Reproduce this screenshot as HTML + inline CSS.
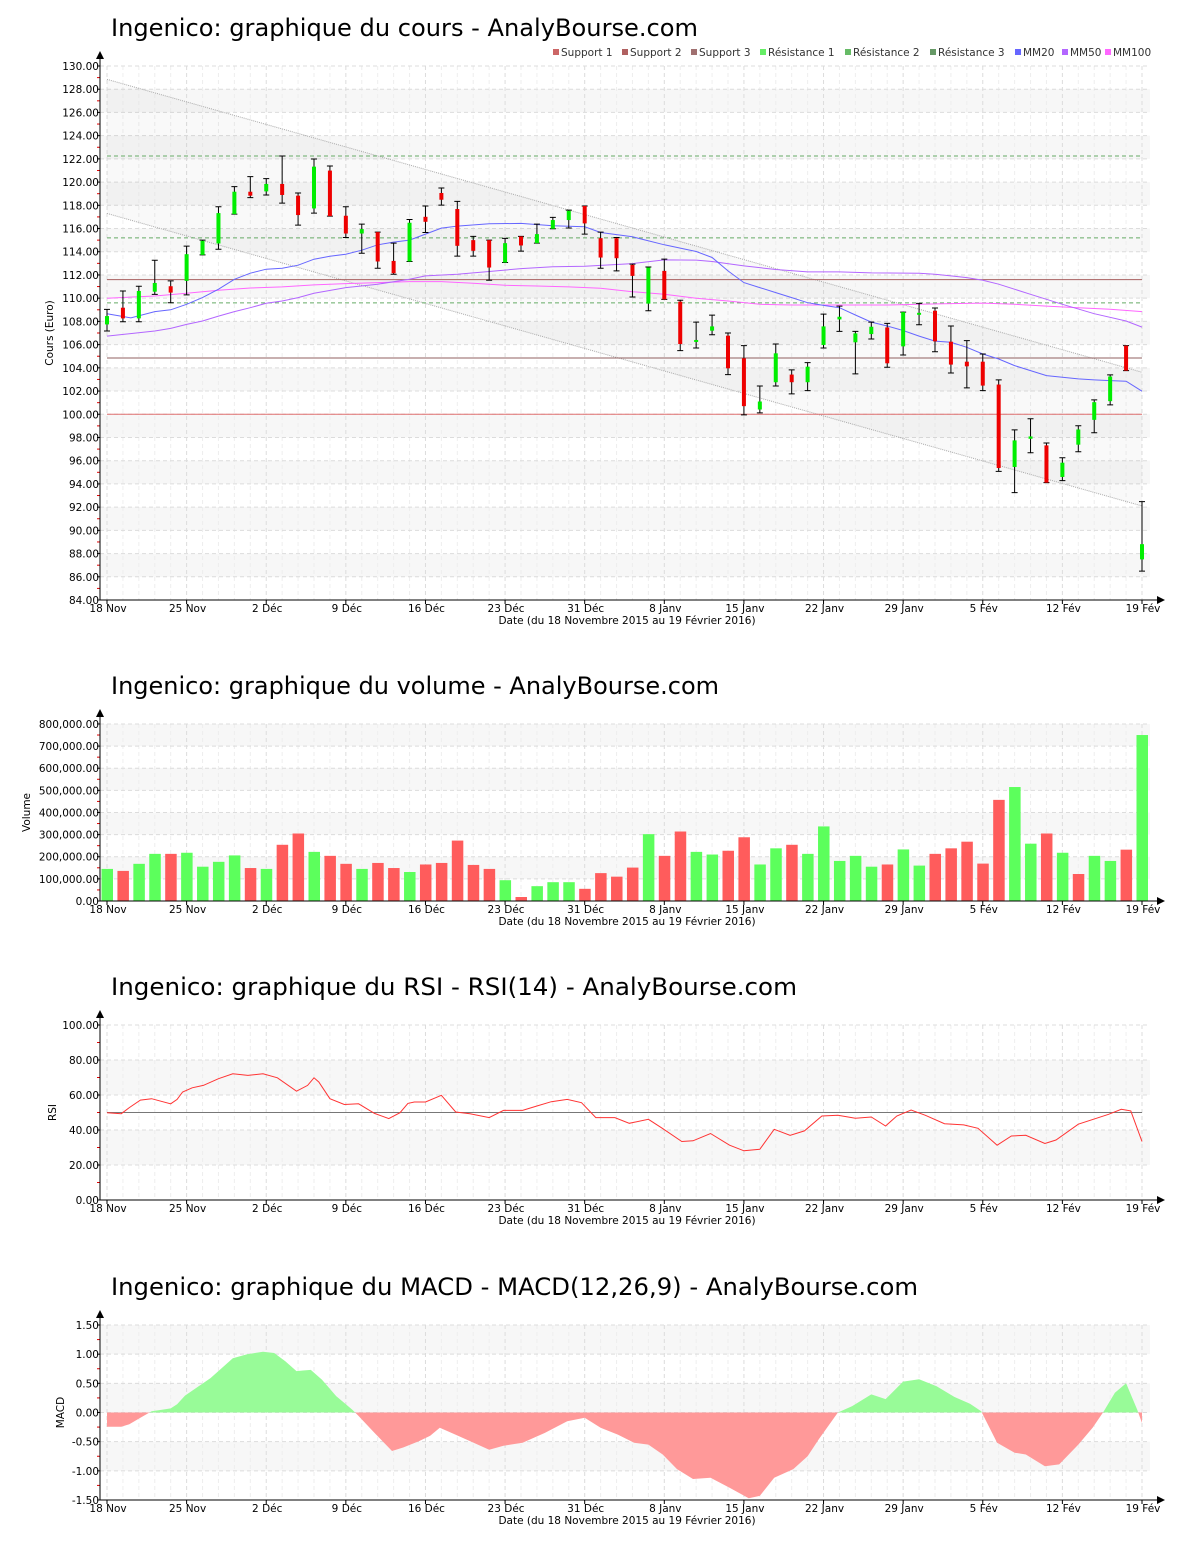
<!DOCTYPE html>
<html><head><meta charset="utf-8"><style>
html,body{margin:0;padding:0;background:#fff;}
svg{display:block;font-family:"DejaVu Sans","Liberation Sans",sans-serif;}
</style></head><body>
<svg id="root" width="1200" height="1550" viewBox="0 0 1200 1550" xmlns="http://www.w3.org/2000/svg"></svg>
<script>
// ---------- DATA ----------
const dateTicks = ["18 Nov","25 Nov","2 Déc","9 Déc","16 Déc","23 Déc","31 Déc","8 Janv","15 Janv","22 Janv","29 Janv","5 Fév","12 Fév","19 Fév"];
const openP  = [107.74,109.18,108.26,110.56,111.03,111.49,113.73,114.71,117.24,119.17,119.2,119.84,118.83,117.73,120.99,117.1,115.57,115.69,113.21,113.16,117.01,119.06,117.68,115.0,115.0,113.07,115.32,114.74,115.98,116.73,117.94,115.17,115.17,112.87,109.53,112.35,109.7,106.25,107.2,106.77,104.82,100.41,102.76,103.42,102.76,105.97,108.17,106.2,106.91,107.48,105.85,108.57,108.92,106.25,104.53,104.53,102.56,95.46,97.89,97.32,94.6,97.38,99.52,101.13,105.91,87.5];
const closeP = [108.46,108.26,110.62,111.31,110.48,113.79,114.94,117.33,119.17,118.83,119.84,118.89,117.16,121.33,117.07,115.57,115.95,113.16,112.15,116.5,116.58,118.48,114.51,114.08,112.64,114.74,114.54,115.52,116.73,117.53,116.44,113.5,113.44,111.92,112.64,109.9,106.05,106.4,107.57,103.96,100.7,101.1,105.25,102.76,104.1,107.57,108.4,106.97,107.54,104.39,108.8,108.74,106.28,104.28,104.13,102.47,95.37,97.75,98.09,94.11,95.83,98.69,101.04,103.25,103.76,88.81];
const highP  = [109.04,110.62,111.03,113.27,111.49,114.48,115.0,117.88,119.61,120.47,120.3,122.25,119.06,121.99,121.39,117.88,116.38,115.69,114.74,116.78,117.94,119.49,118.34,115.32,115.0,115.15,115.32,116.38,116.96,117.59,117.94,115.69,115.23,112.93,112.69,113.36,109.82,107.94,108.54,107.0,105.91,102.44,106.05,103.82,104.45,108.63,109.32,107.14,107.94,107.83,108.8,109.55,109.15,107.6,106.34,105.19,102.96,98.66,99.61,97.52,96.26,99.01,101.24,103.39,105.91,92.48];
const lowP   = [107.17,107.97,107.97,110.33,109.61,110.28,113.73,114.22,117.24,118.66,118.89,118.19,116.29,117.33,117.07,115.23,113.87,112.58,112.06,113.16,115.66,118.02,113.62,113.62,111.54,113.07,114.05,114.74,115.98,116.04,115.52,112.58,112.35,110.1,108.92,109.9,105.48,105.71,106.85,103.42,99.95,100.12,102.44,101.76,102.04,105.71,107.14,103.48,106.48,104.05,105.11,107.71,105.39,103.56,102.27,102.04,95.08,93.25,96.69,94.11,94.28,96.77,98.41,100.81,103.76,86.49];
const mm20Idx = [0,1.5,3,4,5,6,7,8,9,10,11,12,13,14,15,16,17,18,19,20,21,22,24,26,28,30,31,33,35,37,38,39,40,41,42,43,44,45,46,47,48,49,50,51,52,53,54,55,56,57,58,59,60,61,62,63,64,65];
const mm20Val = [108.66,108.3,108.84,109.0,109.47,110.05,110.77,111.63,112.15,112.5,112.58,112.84,113.36,113.62,113.79,114.13,114.6,114.83,115.0,115.52,116.04,116.21,116.41,116.44,116.24,116.15,115.66,115.29,114.6,114.02,113.5,112.35,111.34,110.91,110.48,110.05,109.61,109.38,109.18,108.55,107.94,107.6,107.22,106.73,106.3,106.2,105.77,105.19,104.76,104.19,103.76,103.33,103.19,103.05,102.96,102.9,102.85,101.99];
const mm50Idx = [0,3,4,5,6,7,8,9,10,11,12,13,15,17,19,20,22,24,26,28,30,33,35,37,38,40,42,44,46,48,51,52,53,54,55,56,58,60,62,64,65];
const mm50Val = [106.73,107.17,107.4,107.74,108.03,108.46,108.84,109.18,109.56,109.76,110.05,110.42,110.91,111.2,111.63,111.92,112.06,112.3,112.55,112.7,112.75,112.98,113.3,113.28,113.16,112.78,112.47,112.26,112.26,112.18,112.15,112.06,111.92,111.77,111.54,111.2,110.33,109.47,108.66,108.03,107.51];
const mm100Idx = [0,3,5,7,9,11,13,15,17,19,21,23,25,27,29,31,33,35,37,39,41,43,45,47,49,51,53,55,57,59,61,63,65];
const mm100Val = [110.0,110.19,110.42,110.68,110.88,110.97,111.14,111.26,111.34,111.43,111.43,111.28,111.11,111.05,110.97,110.85,110.56,110.33,110.0,109.76,109.47,109.41,109.41,109.41,109.41,109.47,109.53,109.58,109.47,109.32,109.18,109.04,108.84];
const supportLevels = [111.6,104.85,100.0];
const resistanceLevels = [122.25,115.2,109.6];
const channelUpper = [128.85,103.62];
const channelLower = [117.3,92.1];
const priceTicks = [84,86,88,90,92,94,96,98,100,102,104,106,108,110,112,114,116,118,120,122,124,126,128,130];
const volumes = [145,136,168,213,213,218,155,177,206,149,145,254,305,222,204,168,145,172,149,131,165,172,273,163,145,94,18,67,85,85,55,126,110,151,302,204,314,222,210,227,288,165,238,254,213,337,181,204,155,165,233,160,213,238,268,169,457,515,259,305,218,122,204,181,232,750];
const volUp = [1,0,1,1,0,1,1,1,1,0,1,0,0,1,0,0,1,0,0,1,0,0,0,0,0,1,0,1,1,1,0,0,0,0,1,0,0,1,1,0,0,1,1,0,1,1,1,1,1,0,1,1,0,0,0,0,0,1,1,0,1,0,1,1,0,1];
const volTicks = [0,100,200,300,400,500,600,700,800];
const rsiIdx = [0,0.9,1.4,2.1,2.8,4.0,4.4,4.75,5.35,6.05,7.0,7.9,8.85,9.8,10.7,11.9,12.6,13.0,13.3,14.0,14.9,15.8,16.8,17.7,18.4,18.9,19.3,20.0,21.0,21.9,22.8,24.0,24.9,26.1,27.0,27.9,28.9,29.8,30.7,31.9,32.8,34.0,34.9,36.1,36.8,37.9,39.1,40.0,41.0,41.9,42.9,43.8,44.9,45.9,47.0,48.0,48.9,49.6,50.5,51.4,52.6,53.8,54.7,55.9,56.8,57.7,58.9,59.6,61.0,62.9,63.7,64.3,65];
const rsiVal = [49.9,49.3,52.8,57.1,57.9,55,57.5,61.7,64.1,65.5,69.3,72.1,71.2,72.1,69.8,62.2,65.5,69.8,67.4,57.9,54.6,55,49.5,46.5,49.9,55.2,56,56,59.8,50.3,49.3,47.1,51.2,51.2,53.7,56.2,57.5,55.6,47.1,47.1,43.8,46.1,40.8,33.4,33.8,38,31.3,28.1,29,40.4,37,39.5,48,48.4,46.7,47.4,42.3,48,51.4,48.4,43.6,42.9,41,31.3,36.6,37,32.3,34.3,43.3,49,51.8,50.9,33.4];
const rsiTicks = [0,20,40,60,80,100];
const macdIdx = [0,0.9,1.4,2.1,2.8,3.5,4.0,4.4,4.9,5.8,6.5,7.2,7.9,8.8,9.8,10.5,11.2,11.9,12.3,12.8,13.5,14.4,15.4,15.8,16.8,17.9,18.6,19.6,20.3,20.9,21.9,22.8,24.0,24.9,26.1,27.5,28.9,30.0,31.0,32.1,33.1,34.0,34.9,35.8,36.8,37.9,39.1,40.3,41.0,41.9,43.1,44.0,44.7,45.9,46.8,48.0,48.9,50.0,51.0,52.1,53.2,54.2,54.9,55.9,57.0,57.7,58.9,59.8,61.0,61.9,62.6,63.3,64.0,64.7,65];
const macdVal = [-0.245,-0.245,-0.2,-0.09,0.02,0.05,0.07,0.14,0.29,0.46,0.59,0.76,0.93,1.0,1.04,1.02,0.88,0.71,0.72,0.73,0.56,0.28,0.05,-0.06,-0.35,-0.66,-0.6,-0.49,-0.4,-0.26,-0.38,-0.49,-0.64,-0.57,-0.52,-0.35,-0.15,-0.09,-0.26,-0.38,-0.52,-0.55,-0.72,-0.97,-1.14,-1.12,-1.29,-1.47,-1.43,-1.12,-0.97,-0.75,-0.46,0,0.11,0.31,0.23,0.53,0.57,0.45,0.27,0.15,0.02,-0.52,-0.69,-0.72,-0.92,-0.89,-0.55,-0.26,0.02,0.34,0.5,0.05,-0.18];
const macdTicks = [-1.5,-1.0,-0.5,0,0.5,1.0,1.5];

// ---------- HELPERS ----------
const NS = "http://www.w3.org/2000/svg";
const root = document.getElementById("root");
function mk(tag, attrs, parent){ const e=document.createElementNS(NS,tag); for(const k in attrs) e.setAttribute(k,attrs[k]); (parent||root).appendChild(e); return e; }
const X = i => 107 + i*15.923;
const PL = 100, PR = 1150;
function fmt(v){ return v.toFixed(2); }
function fmtK(v){ const n=v*1000; return n.toLocaleString("en-US")+".00"; }

function panel(name, title, titleLen, top, bottom, yScale, ticks, tickFmt, bandPairs, minorTicks, yLabel, yLabelX){
  const g = mk("g",{});
  
  
  const t = mk("text",{x:111,y:top-30,"font-size":24,fill:"#000",textLength:titleLen,lengthAdjust:"spacingAndGlyphs"},g);
  t.textContent = title;
  
  
  bandPairs.forEach(b=>{
    const r = mk("rect",{x:PL+1,y:yScale(b[1]),width:PR-PL-1,height:yScale(b[0])-yScale(b[1]),fill:"#f7f7f7"},g);
    
    
  });
  for(let i=0;i<=65;i++){
    const major = i%5===0;
    const l = mk("line",{x1:X(i),x2:X(i),y1:top,y2:bottom,stroke:major?"#dcdcdc":"#eeeeee","stroke-dasharray":"4,3","stroke-width":1},g);
    
    
  }
  ticks.forEach(v=>{
    const y=yScale(v);
    const l = mk("line",{x1:PL,x2:PR,y1:y,y2:y,stroke:"#dcdcdc","stroke-dasharray":"4,3"},g);
    
    
    const tk = mk("line",{x1:PL-3,x2:PL,y1:y,y2:y,stroke:"#000"},g);
    
    
    const tx = mk("text",{x:PL-1,y:y+4,"font-size":10.5,"text-anchor":"end",fill:"#000"},g);
    tx.textContent = tickFmt(v);
    
    
  });
  minorTicks.forEach(v=>{
    const y=yScale(v);
    const tk = mk("line",{x1:PL-3,x2:PL,y1:y,y2:y,stroke:"#e00000"},g);
    
    
  });
  const ax = mk("line",{x1:PL,x2:PL,y1:bottom,y2:top-8,stroke:"#000"},g);
  
  
  const ar = mk("polygon",{points:`${PL-4},${top-7} ${PL+4},${top-7} ${PL},${top-15}`,fill:"#000"},g);
  
  
  const yl = mk("text",{x:yLabelX,y:(top+bottom)/2,"font-size":10.5,"text-anchor":"middle",transform:`rotate(-90 ${yLabelX} ${(top+bottom)/2})`,fill:"#000"},g);
  yl.textContent = yLabel;
  
  
  return g;
}
function xAxis(g, bottom){
  const ax = mk("line",{x1:PL,x2:1158,y1:bottom,y2:bottom,stroke:"#000"},g);
  
  
  const ar = mk("polygon",{points:`1157,${bottom-4} 1157,${bottom+4} 1165,${bottom}`,fill:"#000"},g);
  
  
  dateTicks.forEach((d,k)=>{
    const x=X(k*5);
    const tk = mk("line",{x1:x,x2:x,y1:bottom,y2:bottom+4,stroke:"#000"},g);
    
    
    const tx = mk("text",{x:x+1,y:bottom+12,"font-size":10.5,"text-anchor":"middle",fill:"#000"},g);
    tx.textContent = d;
    
    
  });
  const dl = mk("text",{x:627,y:bottom+24,"font-size":10.5,"text-anchor":"middle",fill:"#000"},g);
  dl.textContent = "Date (du 18 Novembre 2015 au 19 Février 2016)";
  
  
}
function linePath(idx, val, xs, ys){ return idx.map((k,j)=>(j?"L":"M")+xs(k).toFixed(1)+","+ys(val[j]).toFixed(1)).join(""); }

// ---------- PRICE CHART ----------
const yP = v => 66 + (130-v)*11.609;
const bandsP = []; for(let b=86;b<128;b+=4) bandsP.push([b,b+2]);
const minorP = []; for(let v=85;v<130;v+=2) minorP.push(v);
const gP = panel("price","Ingenico: graphique du cours - AnalyBourse.com",587,66,600,yP,priceTicks,fmt,bandsP,minorP,"Cours (Euro)",53);
const ch = mk("polygon",{points:`${X(0)},${yP(channelUpper[0])} ${X(65)},${yP(channelUpper[1])} ${X(65)},${yP(channelLower[1])} ${X(0)},${yP(channelLower[0])}`,fill:"rgba(0,0,0,0.025)"},gP);


[channelUpper,channelLower].forEach(c=>{
  const l = mk("line",{x1:X(0),y1:yP(c[0]),x2:X(65),y2:yP(c[1]),stroke:"#aaa","stroke-dasharray":"1,1"},gP);
  
  
});
const supColors = ["#a86060","#906060","#e07070"];
supportLevels.forEach((v,k)=>{
  const l = mk("line",{x1:X(0),x2:X(65),y1:yP(v),y2:yP(v),stroke:supColors[k]},gP);
  
  
});
resistanceLevels.forEach(v=>{
  const l = mk("line",{x1:X(0),x2:X(65),y1:yP(v),y2:yP(v),stroke:"#66aa66","stroke-dasharray":"4,3"},gP);
  
  
});
[[mm100Idx,mm100Val,"#ff66ff","mm100-line"],[mm50Idx,mm50Val,"#b366ff","mm50-line"],[mm20Idx,mm20Val,"#6666ff","mm20-line"]].forEach(s=>{
  const p = mk("path",{d:linePath(s[0],s[1],X,yP),fill:"none",stroke:s[2],"stroke-width":1},gP);
  
  
});
openP.forEach((o,i)=>{
  const x=X(i), c=closeP[i], up=c>=o;
  const w = mk("path",{d:`M${x},${yP(highP[i])}V${yP(lowP[i])}M${x-3},${yP(highP[i])}H${x+3}M${x-3},${yP(lowP[i])}H${x+3}`,stroke:"#000","stroke-width":1,fill:"none"},gP);
  
  
  const top=yP(Math.max(o,c)), h=Math.max(2,yP(Math.min(o,c))-top);
  const b = mk("rect",{x:x-2,y:top,width:4,height:h,fill:up?"#00ee00":"#ee0000"},gP);
  
  
});
xAxis(gP,600);
const legendItems = [["Support 1","#cc6666",553],["Support 2","#b06060",622],["Support 3","#a07070",691],["Résistance 1","#66ee66",760],["Résistance 2","#66bb66",845],["Résistance 3","#669966",930],["MM20","#6666ff",1015],["MM50","#b366ff",1062],["MM100","#ff66ff",1105]];
legendItems.forEach(it=>{
  const g = mk("g",{},gP);
  
  
  mk("rect",{x:it[2],y:49,width:6,height:6,fill:it[1]},g);
  const t = mk("text",{x:it[2]+8,y:56,"font-size":10.5,fill:"#333"},g);
  t.textContent = it[0];
});

// ---------- VOLUME CHART ----------
const yV = v => 901 - v*0.2213;
const gV = panel("volume","Ingenico: graphique du volume - AnalyBourse.com",608,724,901,yV,volTicks,fmtK,[[100,200],[300,400],[500,600],[700,800]],[50,150,250,350,450,550,650,750],"Volume",30);
volumes.forEach((v,i)=>{
  const r = mk("rect",{x:X(i)-5.5,y:yV(v),width:11.5,height:901-yV(v),fill:volUp[i]?"#5cff5c":"#ff5c5c"},gV);
  
  
});
xAxis(gV,901);

// ---------- RSI CHART ----------
const yR = v => 1200 - v*1.75;
const gR = panel("rsi","Ingenico: graphique du RSI - RSI(14) - AnalyBourse.com",686,1025,1200,yR,rsiTicks,fmt,[[20,40],[60,80]],[10,30,50,70,90],"RSI",56);
const rl = mk("line",{x1:X(0),x2:X(65),y1:yR(50),y2:yR(50),stroke:"#777"},gR);


const rp = mk("path",{d:linePath(rsiIdx,rsiVal,X,yR),fill:"none",stroke:"#ff3333","stroke-width":1},gR);


xAxis(gR,1200);

// ---------- MACD CHART ----------
const yM = v => 1412.5 - v*58.33;
const gM = panel("macd","Ingenico: graphique du MACD - MACD(12,26,9) - AnalyBourse.com",807,1325,1500,yM,macdTicks,fmt,[[-1.0,-0.5],[0,0.5],[1.0,1.5]],[-1.25,-0.75,-0.25,0.25,0.75,1.25],"MACD",64);
const defs = mk("defs",{},gM);
const cpA = mk("clipPath",{id:"macdAbove"},defs); mk("rect",{x:0,y:0,width:1200,height:yM(0)},cpA);
const cpB = mk("clipPath",{id:"macdBelow"},defs); mk("rect",{x:0,y:yM(0),width:1200,height:400},cpB);
const areaD = linePath(macdIdx,macdVal,X,yM)+`L${X(macdIdx[macdIdx.length-1])},${yM(0)}L${X(macdIdx[0])},${yM(0)}Z`;
const ma = mk("path",{d:areaD,fill:"#98fb98","clip-path":"url(#macdAbove)"},gM);


const mb = mk("path",{d:areaD,fill:"#ff9999","clip-path":"url(#macdBelow)"},gM);


xAxis(gM,1500);
</script>
</body></html>
